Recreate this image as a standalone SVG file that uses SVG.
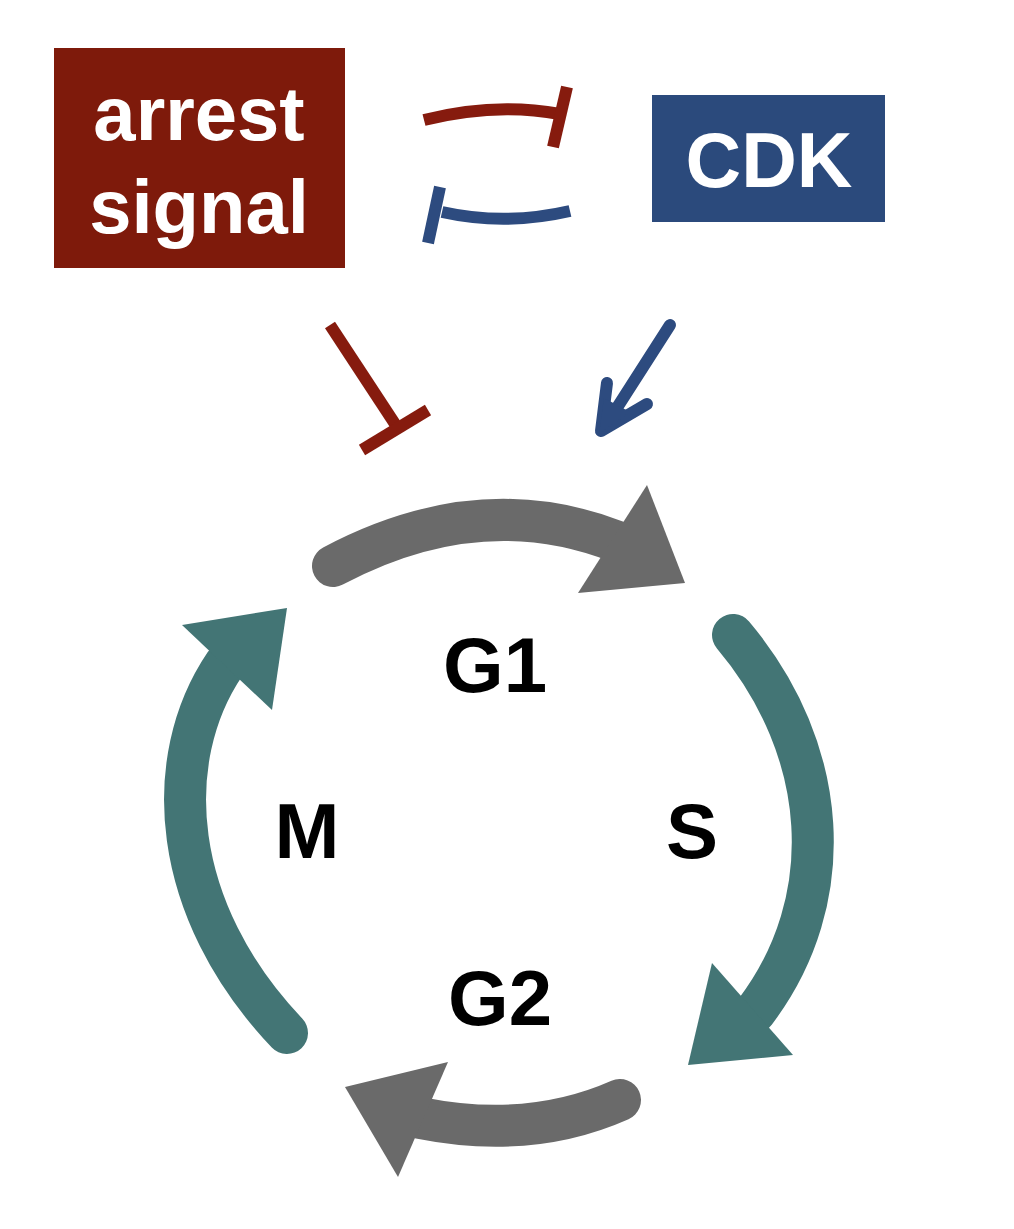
<svg xmlns="http://www.w3.org/2000/svg" width="1014" height="1229" viewBox="0 0 1014 1229">
<style>
.lbl{font-family:"Liberation Sans",Arial,sans-serif;font-weight:bold;text-anchor:middle}
.red{stroke:#861b0e;stroke-width:12;fill:none}
.blue{stroke:#2d4b7f;stroke-width:12;fill:none}
.gbody{stroke:#6a6a6a;stroke-width:42;fill:none;stroke-linecap:round}
.tbody{stroke:#437575;stroke-width:42;fill:none;stroke-linecap:round}
</style>
<rect width="1014" height="1229" fill="#ffffff"/>
<g id="arrest-signal">
<rect x="54" y="48" width="291" height="220" fill="#7e1a0b"/>
<text class="lbl" x="199" y="140" font-size="76" fill="#ffffff">arrest</text>
<text class="lbl" x="199" y="233" font-size="76" fill="#ffffff">signal</text>
</g>
<g id="cdk">
<rect x="652" y="95" width="233" height="127" fill="#2b4a7c"/>
<text class="lbl" x="769" y="187" font-size="77" fill="#ffffff">CDK</text>
</g>
<g id="label-G1"><text class="lbl" x="495" y="692" font-size="78" fill="#000">G1</text></g>
<g id="label-S"><text class="lbl" x="692" y="858" font-size="78" fill="#000">S</text></g>
<g id="label-G2"><text class="lbl" x="500" y="1025" font-size="78" fill="#000">G2</text></g>
<g id="label-M"><text class="lbl" x="307" y="858" font-size="78" fill="#000">M</text></g>
<g id="connectors">
<path class="red" d="M 424 120 Q 495 102 560 114"/>
<path class="red" d="M 567 87 L 553 147"/>
<path class="blue" d="M 442 212 Q 505 226 570 211"/>
<path class="blue" d="M 440 187 L 428 243"/>
<path class="red" d="M 330 325 L 395 424"/>
<path class="red" d="M 362 450 L 428 410"/>
<path class="blue" d="M 670 325 L 604 428" stroke-linecap="round"/>
<path class="blue" d="M 607 383 L 601 431 L 647 404" stroke-linecap="round" stroke-linejoin="round"/>
<polygon points="599,434 604,398 630,412" fill="#2d4b7f"/>
<path class="gbody" d="M 333 566 Q 480 488 618 542"/>
<polygon points="647,485 685,583 578,593" fill="#6a6a6a"/>
<path class="tbody" d="M 733 635 C 830 750 840 900 755 1012"/>
<polygon points="712,963 793,1055 688,1065" fill="#437575"/>
<path class="gbody" d="M 620 1100 Q 530 1140 420 1118"/>
<polygon points="345,1087 448,1062 398,1177" fill="#6a6a6a"/>
<path class="tbody" d="M 287 1033 C 170 910 160 760 225 664"/>
<polygon points="182,625 287,608 272,710" fill="#437575"/>
</g>
</svg>
